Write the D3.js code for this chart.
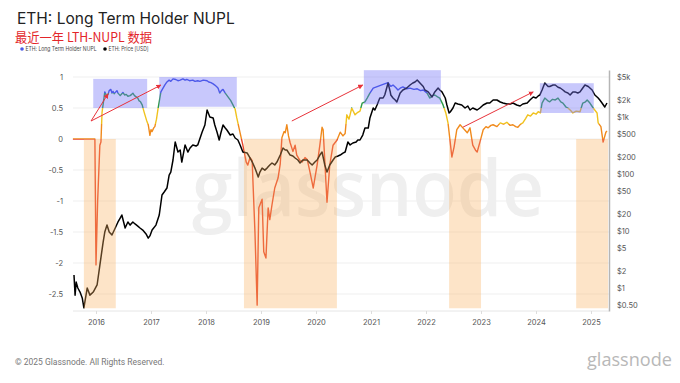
<!DOCTYPE html>
<html><head><meta charset="utf-8">
<script src="https://cdn.jsdelivr.net/npm/d3@7"></script>
<style>
html,body{margin:0;padding:0;background:#fff;}
svg{display:block;font-family:Inter,"Noto Sans",sans-serif;}
</style></head>
<body>
<svg id="chart" width="680" height="383"></svg>
<script>
// ---------- DATA ----------
const nuplDates = [2015.58,2015.98,2016.00,2016.03,2016.07,2016.09,2016.11,2016.16,2016.18,2016.20,2016.22,2016.24,2016.27,2016.29,2016.31,2016.33,2016.36,2016.38,2016.40,2016.44,2016.47,2016.49,2016.52,2016.55,2016.58,2016.62,2016.65,2016.67,2016.70,2016.73,2016.76,2016.78,2016.81,2016.84,2016.87,2016.89,2016.92,2016.95,2016.97,2016.98,2017.00,2017.02,2017.05,2017.07,2017.10,2017.13,2017.18,2017.25,2017.29,2017.33,2017.36,2017.40,2017.45,2017.49,2017.53,2017.58,2017.62,2017.65,2017.70,2017.76,2017.80,2017.85,2017.89,2017.95,2018.02,2018.05,2018.09,2018.13,2018.16,2018.20,2018.22,2018.25,2018.28,2018.31,2018.35,2018.40,2018.45,2018.49,2018.53,2018.56,2018.62,2018.67,2018.73,2018.76,2018.80,2018.84,2018.85,2018.89,2018.93,2018.96,2019.02,2019.05,2019.09,2019.13,2019.16,2019.20,2019.25,2019.31,2019.35,2019.38,2019.42,2019.44,2019.47,2019.50,2019.53,2019.58,2019.62,2019.65,2019.71,2019.75,2019.80,2019.84,2019.89,2019.95,2020.02,2020.07,2020.11,2020.13,2020.18,2020.20,2020.25,2020.31,2020.38,2020.44,2020.49,2020.53,2020.56,2020.60,2020.65,2020.71,2020.76,2020.80,2020.84,2020.89,2020.93,2020.98,2021.04,2021.10,2021.16,2021.22,2021.31,2021.36,2021.40,2021.45,2021.49,2021.53,2021.58,2021.65,2021.71,2021.78,2021.84,2021.90,2021.95,2022.02,2022.07,2022.12,2022.16,2022.21,2022.25,2022.31,2022.36,2022.40,2022.44,2022.47,2022.51,2022.56,2022.62,2022.67,2022.71,2022.75,2022.80,2022.85,2022.90,2022.93,2022.98,2023.04,2023.09,2023.13,2023.18,2023.22,2023.29,2023.35,2023.41,2023.47,2023.53,2023.58,2023.63,2023.67,2023.72,2023.76,2023.81,2023.85,2023.90,2023.95,2024.00,2024.04,2024.08,2024.11,2024.16,2024.21,2024.25,2024.30,2024.35,2024.40,2024.45,2024.49,2024.54,2024.58,2024.63,2024.67,2024.73,2024.80,2024.85,2024.90,2024.93,2024.98,2025.04,2025.11,2025.13,2025.18,2025.22,2025.27,2025.29];
const nuplValues = [0,0,-2.03,-1.0,-0.1,-0.05,0.43,0.76,0.72,0.70,0.72,0.78,0.80,0.74,0.77,0.73,0.76,0.78,0.74,0.70,0.73,0.75,0.71,0.72,0.69,0.70,0.72,0.74,0.70,0.68,0.66,0.62,0.60,0.55,0.45,0.39,0.30,0.23,0.12,0.06,0.15,0.12,0.18,0.2,0.32,0.5,0.76,0.87,0.92,0.95,0.93,0.97,0.96,0.94,0.95,0.97,0.95,0.96,0.94,0.95,0.93,0.94,0.93,0.95,0.94,0.92,0.91,0.89,0.87,0.84,0.82,0.74,0.78,0.80,0.74,0.68,0.62,0.55,0.48,0.34,0.10,-0.10,-0.37,-0.42,-0.30,-0.35,-0.6,-1.5,-2.68,-1.11,-0.97,-1.82,-1.92,-1.11,-1.3,-1.06,-0.79,-0.63,-0.4,0.02,0.12,0.1,0.23,0.05,-0.06,-0.2,-0.1,-0.26,-0.35,-0.37,-0.3,-0.33,-0.53,-0.79,-0.42,-0.1,0.19,0.15,-0.69,-1.02,-0.42,-0.1,-0.02,0.11,0.05,0.09,0.39,0.32,0.5,0.39,0.43,0.45,0.58,0.6,0.66,0.74,0.82,0.84,0.86,0.88,0.91,0.85,0.87,0.83,0.79,0.82,0.84,0.81,0.82,0.80,0.81,0.78,0.79,0.74,0.66,0.70,0.71,0.68,0.66,0.55,0.42,0.26,-0.05,-0.29,-0.13,0.15,0.23,0.18,0.14,0.1,0.18,-0.1,-0.18,-0.21,-0.05,0.15,0.2,0.18,0.22,0.23,0.2,0.26,0.24,0.27,0.22,0.23,0.2,0.19,0.24,0.26,0.33,0.39,0.37,0.42,0.40,0.44,0.42,0.58,0.66,0.62,0.6,0.64,0.63,0.66,0.6,0.58,0.52,0.5,0.46,0.42,0.45,0.44,0.58,0.6,0.63,0.58,0.5,0.42,0.26,0.2,-0.05,0.11,0.13];

const priceDates = [2015.60,2015.62,2015.64,2015.67,2015.71,2015.75,2015.78,2015.84,2015.89,2015.95,2016.02,2016.07,2016.13,2016.16,2016.20,2016.24,2016.29,2016.35,2016.40,2016.44,2016.47,2016.53,2016.58,2016.62,2016.67,2016.71,2016.76,2016.80,2016.85,2016.91,2016.95,2016.98,2017.02,2017.09,2017.15,2017.20,2017.24,2017.29,2017.33,2017.36,2017.40,2017.44,2017.49,2017.53,2017.56,2017.62,2017.67,2017.71,2017.76,2017.82,2017.85,2017.93,2017.98,2018.02,2018.07,2018.13,2018.16,2018.20,2018.24,2018.27,2018.31,2018.35,2018.38,2018.44,2018.49,2018.53,2018.58,2018.62,2018.67,2018.75,2018.80,2018.85,2018.89,2018.95,2018.98,2019.02,2019.07,2019.11,2019.16,2019.20,2019.25,2019.29,2019.35,2019.40,2019.44,2019.47,2019.53,2019.58,2019.62,2019.67,2019.71,2019.76,2019.84,2019.89,2019.93,2019.98,2020.02,2020.07,2020.11,2020.16,2020.20,2020.25,2020.31,2020.35,2020.40,2020.44,2020.49,2020.53,2020.58,2020.62,2020.67,2020.73,2020.76,2020.80,2020.85,2020.89,2020.95,2020.98,2021.04,2021.07,2021.11,2021.16,2021.22,2021.25,2021.31,2021.35,2021.36,2021.40,2021.44,2021.47,2021.53,2021.58,2021.65,2021.71,2021.76,2021.80,2021.84,2021.89,2021.95,2021.98,2022.04,2022.11,2022.16,2022.22,2022.25,2022.29,2022.35,2022.38,2022.42,2022.44,2022.49,2022.53,2022.58,2022.65,2022.71,2022.76,2022.80,2022.85,2022.93,2022.98,2023.04,2023.11,2023.16,2023.22,2023.29,2023.35,2023.40,2023.47,2023.53,2023.58,2023.65,2023.71,2023.76,2023.84,2023.89,2023.95,2024.00,2024.04,2024.07,2024.11,2024.16,2024.22,2024.25,2024.31,2024.35,2024.40,2024.44,2024.49,2024.53,2024.58,2024.62,2024.67,2024.71,2024.76,2024.80,2024.85,2024.89,2024.95,2024.98,2025.02,2025.07,2025.13,2025.16,2025.20,2025.25,2025.29];
const priceValues = [1.69,0.75,1.27,1.0,0.85,0.67,0.45,1.0,0.75,0.85,1.13,2.5,6.4,9.6,12.7,9.6,8.5,11.3,14.4,16.9,19.1,11.3,14.4,12.7,14.4,13.3,12.2,11.3,10.4,8.9,7.5,8.2,10.4,12.7,19.1,42.8,48.3,56.8,96,108,176,364,243,264,162,323,243,286,323,310,323,546,724,1327,1000,960,724,546,395,524,724,641,591,483,503,428,395,323,243,233,191,156,127,88.6,108,127,117,127,144,156,144,162,215,286,264,264,215,207,191,176,156,176,176,156,144,162,176,215,243,144,108,144,176,199,207,215,233,243,364,323,350,364,395,395,483,641,641,960,1438,1327,1625,2154,2154,2432,3949,2755,2432,2154,1987,1833,2637,2976,3227,3640,3949,4118,4457,3949,3430,2976,2755,2244,2755,3227,2976,2755,2154,1625,1175,1224,1438,1761,1690,1625,1438,1560,1327,1438,1327,1438,1625,1761,1761,1987,1987,1833,1761,1690,1690,1761,1625,1560,1690,1761,1987,2244,2154,2340,2432,2976,3949,3430,3430,3640,3640,3330,3227,2976,2755,2637,2432,2755,2755,2637,2755,3227,3640,3430,3227,2976,2432,2154,1987,1761,1497,1761];

const nuplTicks = [1,0.5,0,-0.5,-1,-1.5,-2,-2.5];
const priceTicks = [5000,2000,1000,500,200,100,50,20,10,5,2,1,0.5];
const priceTickLabels = ["$5k","$2k","$1k","$500","$200","$100","$50","$20","$10","$5","$2","$1","$0.50"];
const yearTicks = [2016,2017,2018,2019,2020,2021,2022,2023,2024,2025];

// highlighted zones (annotations)
const blueStart = [2015.95,2017.15,2020.87,2024.07];
const blueEnd   = [2016.93,2018.56,2022.27,2025.05];
const blueTop   = [0.97,1.0,1.11,0.90];
const blueBottom= [0.50,0.52,0.56,0.42];
const orangeStart = [2015.78,2018.69,2022.42,2024.73];
const orangeEnd   = [2016.36,2020.38,2023.00,2025.31];
const orangeTop = 0, orangeBottom = -2.73;

// arrows
const arrowFromT = [2015.91,2015.91,2019.56,2022.67];
const arrowFromV = [0.29,0.29,0.29,0.19];
const arrowToT   = [2016.22,2017.18,2020.85,2023.95];
const arrowToV   = [0.73,0.87,0.87,0.76];

// ---------- CHART ----------
const svg = d3.select("#chart");
const L = 73, R = 609, T = 70, B = 311;

const x = d3.scaleLinear().domain([2015.582, 2025.327]).range([L, R]);
const yN = d3.scaleLinear().domain([-2.774, 1.113]).range([B, T]);
const yP = d3.scaleLog().domain([0.395, 6677]).range([B, T]);

// titles
svg.append("text").attr("x",17).attr("y",24).attr("font-size",15.5).attr("fill","#222")
  .attr("font-family","Inter, 'Noto Sans', sans-serif").text("ETH: Long Term Holder NUPL");
svg.append("text").attr("x",15).attr("y",42).attr("font-size",13).attr("fill","#e3262a")
  .attr("font-family","'Noto Sans CJK SC', sans-serif")
  .attr("textLength",137).attr("lengthAdjust","spacingAndGlyphs").text("最近一年 LTH-NUPL 数据");

// legend
const legend = svg.append("g").attr("font-size",5.6).attr("fill","#444");
legend.append("circle").attr("cx",22).attr("cy",49).attr("r",1.8).attr("fill","#4a5be8");
legend.append("text").attr("x",25.5).attr("y",51).attr("textLength",71).attr("lengthAdjust","spacingAndGlyphs").text("ETH: Long Term Holder NUPL");
legend.append("circle").attr("cx",105).attr("cy",49).attr("r",1.8).attr("fill","#000");
legend.append("text").attr("x",108.5).attr("y",51).attr("textLength",40).attr("lengthAdjust","spacingAndGlyphs").text("ETH: Price [USD]");

// gridlines
svg.append("g").selectAll("line").data(nuplTicks).join("line")
  .attr("x1",L).attr("x2",R).attr("y1",d=>yN(d)).attr("y2",d=>yN(d))
  .attr("stroke","#efefef").attr("stroke-width",1);
svg.append("line").attr("x1",L).attr("x2",R).attr("y1",B).attr("y2",B).attr("stroke","#e6e6e6");

// watermark
svg.append("text").attr("x",368).attr("y",216).attr("text-anchor","middle")
  .attr("font-size",78).attr("font-weight",600).attr("font-family","'Open Sans', sans-serif").attr("fill","#efefef")
  .attr("textLength",352).attr("lengthAdjust","spacingAndGlyphs").text("glassnode");

// gradient for NUPL
const defs = svg.append("defs");
const grad = defs.append("linearGradient").attr("id","nuplGrad")
  .attr("gradientUnits","userSpaceOnUse").attr("x1",0).attr("x2",0).attr("y1",T).attr("y2",B);
const off = v => (yN(v)-T)/(B-T);
const bands = [
  [0, off(0.75), "#3346e0"],
  [off(0.75), off(0.5), "#2c9a46"],
  [off(0.5), off(0.25), "#f0c21e"],
  [off(0.25), off(0), "#f08a1c"],
  [off(0), 1, "#e8452a"]
];
bands.forEach(b=>{
  grad.append("stop").attr("offset",b[0]).attr("stop-color",b[2]);
  grad.append("stop").attr("offset",b[1]).attr("stop-color",b[2]);
});

const nuplData = nuplDates.map((d,i)=>({t:d,v:nuplValues[i]}));
const priceData = priceDates.map((d,i)=>({t:d,v:priceValues[i]}));

svg.append("path").datum(nuplData)
  .attr("d", d3.line().x(d=>x(d.t)).y(d=>yN(d.v)))
  .attr("fill","none").attr("stroke","url(#nuplGrad)").attr("stroke-width",1.4).attr("stroke-linejoin","round");

svg.append("path").datum(priceData)
  .attr("d", d3.line().x(d=>x(d.t)).y(d=>yP(d.v)))
  .attr("fill","none").attr("stroke","#000").attr("stroke-width",1.5).attr("stroke-linejoin","round");

// overlay zones
svg.append("g").selectAll("rect").data(orangeStart).join("rect")
  .attr("x",(d)=>x(d)).attr("width",(d,i)=>x(orangeEnd[i])-x(d))
  .attr("y",yN(orangeTop)).attr("height",yN(orangeBottom)-yN(orangeTop))
  .attr("fill","rgb(249,178,98)").attr("fill-opacity",0.35);
svg.append("g").selectAll("rect").data(blueStart).join("rect")
  .attr("x",(d)=>x(d)).attr("width",(d,i)=>x(blueEnd[i])-x(d))
  .attr("y",(d,i)=>yN(blueTop[i])).attr("height",(d,i)=>yN(blueBottom[i])-yN(blueTop[i]))
  .attr("fill","rgb(117,117,247)").attr("fill-opacity",0.4);

// arrows
defs.append("marker").attr("id","ah").attr("viewBox","0 0 10 10").attr("refX",9).attr("refY",5)
  .attr("markerWidth",5).attr("markerHeight",5).attr("orient","auto")
  .append("path").attr("d","M0,0 L10,5 L0,10 z").attr("fill","#e8323a");
svg.append("g").selectAll("line").data(arrowFromT).join("line")
  .attr("x1",d=>x(d)).attr("y1",(d,i)=>yN(arrowFromV[i]))
  .attr("x2",(d,i)=>x(arrowToT[i])).attr("y2",(d,i)=>yN(arrowToV[i]))
  .attr("stroke","#e8323a").attr("stroke-width",1).attr("marker-end","url(#ah)");

// left axis
const axL = svg.append("g").attr("transform",`translate(${L-10},0)`)
  .call(d3.axisLeft(yN).tickValues(nuplTicks).tickFormat(d=>String(d)).tickSize(0).tickPadding(0));
axL.select(".domain").remove();
axL.selectAll("text").attr("font-size",7.5).attr("fill","#555").attr("font-family","Inter, sans-serif");

// right axis
const axR = svg.append("g").attr("transform",`translate(${R},0)`)
  .call(d3.axisRight(yP).tickValues(priceTicks).tickFormat((d,i)=>priceTickLabels[i]).tickSize(0).tickPadding(8));
axR.select(".domain").attr("stroke","#b5b5b5").attr("stroke-width",1.5);
axR.selectAll("text").attr("font-size",7.5).attr("fill","#555").attr("font-family","Inter, sans-serif");

// bottom axis
const axB = svg.append("g").attr("transform",`translate(0,${B})`)
  .call(d3.axisBottom(x).tickValues(yearTicks).tickFormat(d=>String(d)).tickSize(3).tickPadding(6));
axB.select(".domain").remove();
axB.selectAll("line").attr("stroke","#ddd");
axB.selectAll("text").attr("font-size",7.5).attr("fill","#555").attr("font-family","Inter, sans-serif");

// footer
svg.append("text").attr("x",15).attr("y",365).attr("font-size",8.5).attr("fill","#777")
  .attr("font-family","Roboto, sans-serif").text("© 2025 Glassnode. All Rights Reserved.");
svg.append("text").attr("x",672).attr("y",366).attr("text-anchor","end").attr("font-size",19)
  .attr("fill","#b8b8b8").attr("font-family","'Open Sans', sans-serif")
  .attr("textLength",85).attr("lengthAdjust","spacingAndGlyphs").text("glassnode");
</script>
</body></html>
